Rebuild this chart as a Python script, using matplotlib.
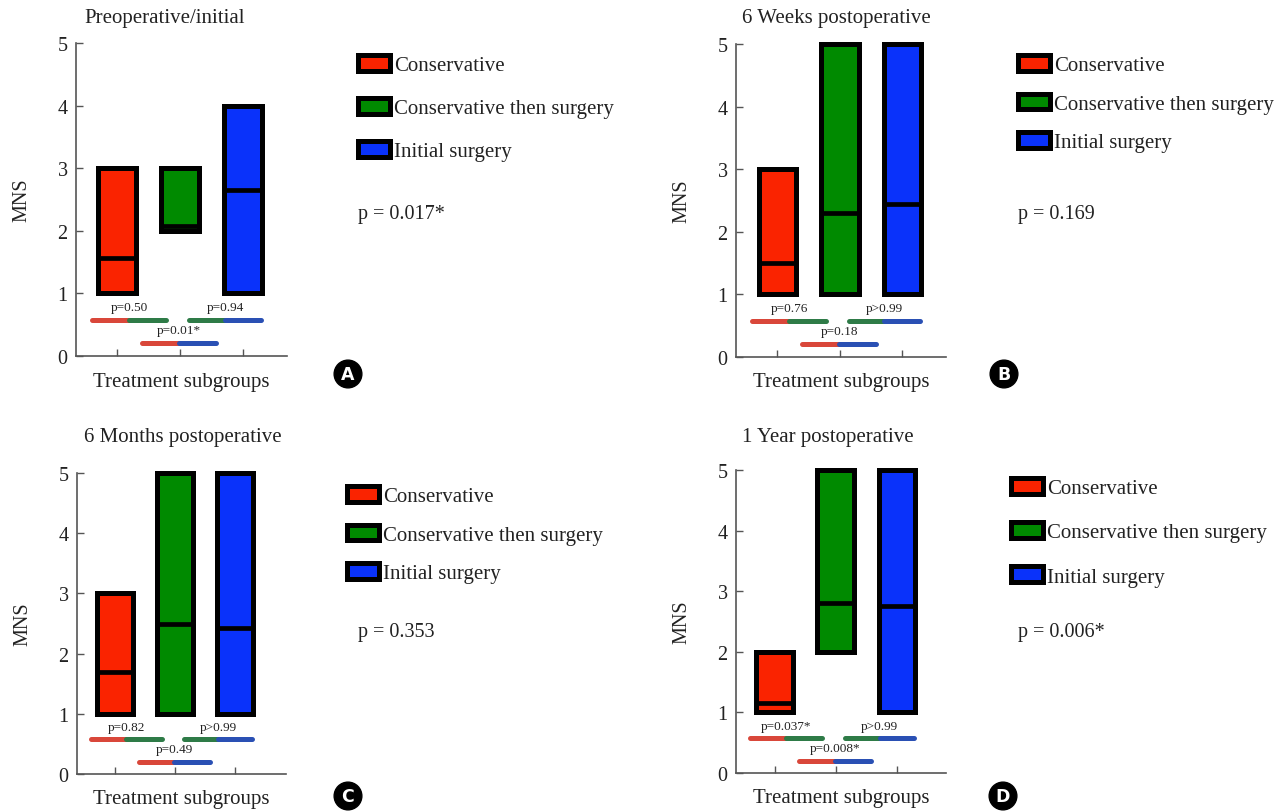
import numpy as np
import matplotlib.pyplot as plt
from matplotlib.patches import Patch

plt.rcParams['font.family'] = ['Liberation Serif', 'DejaVu Serif']

groups = ["Conservative", "Conservative then surgery", "Initial surgery"]
box_colors = ["#fa2300", "#008a00", "#0a32fa"]
pair_colors = {"Conservative": "#d9473a", "Conservative then surgery": "#2e7b47",
               "Initial surgery": "#2a50b4"}

titles = ["Preoperative/initial", "6 Weeks postoperative",
          "6 Months postoperative", "1 Year postoperative"]
letters = ["A", "B", "C", "D"]

# min, median, max per group for each time point
low = [[1, 2, 1], [1, 1, 1], [1, 1, 1], [1, 2, 1]]
median = [[1.57, 2.07, 2.65], [1.5, 2.3, 2.45], [1.7, 2.5, 2.42], [1.15, 2.8, 2.75]]
high = [[3, 3, 4], [3, 5, 5], [3, 5, 5], [2, 5, 5]]

overall_p = ["p = 0.017*", "p = 0.169", "p = 0.353", "p = 0.006*"]
# pairwise p: red-green, green-blue, red-blue
pair_p = [["p=0.50", "p=0.94", "p=0.01*"],
          ["p=0.76", "p>0.99", "p=0.18"],
          ["p=0.82", "p>0.99", "p=0.49"],
          ["p=0.037*", "p>0.99", "p=0.008*"]]

W, H = 1287, 812
fig = plt.figure(figsize=(W / 100, H / 100), dpi=100)

# layout in pixels: spine x, axis end x, y of 0, y of 5, xlim, legend pos, legend spacing
layout = [
    dict(x0=76, x1=287, y0=357, y5=44, xlim=(0.35, 3.70), leg=(358, 56), sp=1.1, px=358, py=214, tx=84, ty=18, cx=348, cy=375),
    dict(x0=736, x1=946, y0=358, y5=45, xlim=(0.34, 3.70), leg=(1018, 56), sp=0.88, px=1018, py=214, tx=742, ty=19, cx=1004, cy=375),
    dict(x0=77, x1=286, y0=775, y5=474, xlim=(0.37, 3.85), leg=(347, 487), sp=0.88, px=358, py=632, tx=84, ty=438, cx=348, cy=797),
    dict(x0=736, x1=946, y0=774, y5=471, xlim=(0.37, 3.80), leg=(1011, 479), sp=1.15, px=1018, py=632, tx=742, ty=438, cx=1003, cy=797),
]

pairs = [(0, 1, (0.6, 1.78), 0.58, 0.78), (1, 2, (2.15, 3.28), 0.58, 0.78),
         (0, 2, (1.4, 2.58), 0.2, 0.41)]

ink = "#222222"
x = np.arange(1, 4)
for i, L in enumerate(layout):
    ax = fig.add_axes([L["x0"] / W, 1 - L["y0"] / H, (L["x1"] - L["x0"]) / W,
                       (L["y0"] - L["y5"]) / H])
    lo = np.array(low[i])
    hi = np.array(high[i])
    med = np.array(median[i])
    ax.bar(x, hi - lo, bottom=lo, width=0.6, color=box_colors,
           edgecolor="black", linewidth=3.6, clip_on=False, zorder=3)
    ax.hlines(med, x - 0.3, x + 0.3, colors="black", linewidth=3.4, zorder=4)

    for (a, b, (xs, xe), yb, yt), lab in zip(pairs, pair_p[i]):
        xm = (xs + xe) / 2
        ax.plot([xs, xm], [yb, yb], color=pair_colors[groups[a]], lw=3.6,
                solid_capstyle="round", zorder=3)
        ax.plot([xm, xe], [yb, yb], color=pair_colors[groups[b]], lw=3.6,
                solid_capstyle="round", zorder=3)
        ax.text(xm, yt, lab, ha="center", va="center", fontsize=9.5, color=ink)

    ax.set_xlim(*L["xlim"])
    ax.set_ylim(0, 5)
    ax.set_xticks(x)
    ax.set_xticklabels([])
    ax.set_yticks(range(6))
    ax.tick_params(axis="both", direction="in", length=5, width=1, colors="#555555",
                   labelcolor=ink, labelsize=14.5)
    ax.tick_params(axis="y", pad=6)
    for s in ["top", "right"]:
        ax.spines[s].set_visible(False)
    for s in ["left", "bottom"]:
        ax.spines[s].set_color("#555555")
        ax.spines[s].set_linewidth(1.2)

    axw = L["x1"] - L["x0"]
    axh = L["y0"] - L["y5"]
    ax.set_ylabel("MNS", fontsize=14.5, color=ink)
    ax.yaxis.label.set_verticalalignment("center")
    ax.yaxis.set_label_coords(-54 / axw, 0.5)
    ax.set_xlabel("Treatment subgroups", fontsize=15, color=ink)
    ax.xaxis.label.set_verticalalignment("center")
    ax.xaxis.set_label_coords(0.5, -25 / axh)

    fig.text(L["tx"] / W, 1 - L["ty"] / H, titles[i], fontsize=15, color=ink,
             ha="left", va="center")

    handles = [Patch(facecolor=c, edgecolor="black", linewidth=3.6) for c in box_colors]
    fig.legend(handles, groups, loc="upper left",
               bbox_to_anchor=(L["leg"][0] / W, 1 - L["leg"][1] / H),
               frameon=False, fontsize=15, handlelength=1.55, handleheight=0.8,
               handletextpad=0.2, labelspacing=L["sp"], borderpad=0, borderaxespad=0,
               labelcolor=ink)

    fig.text(L["px"] / W, 1 - L["py"] / H, overall_p[i], fontsize=14.5, color=ink,
             ha="left", va="center")

    fig.text(L["cx"] / W, 1 - L["cy"] / H, letters[i], fontsize=12.5, fontweight="bold",
             family="DejaVu Sans", color="white", ha="center", va="center",
             bbox=dict(boxstyle="circle,pad=0.28", facecolor="black", edgecolor="black"))

fig.savefig("out.png", dpi=100)
